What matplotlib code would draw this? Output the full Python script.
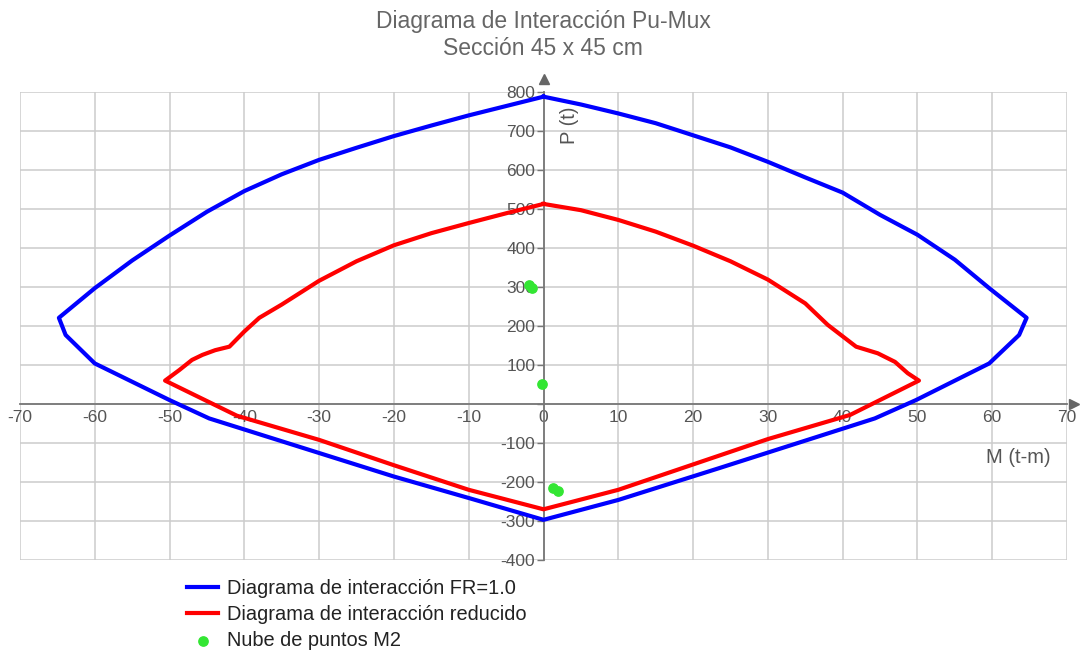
import numpy as np
import matplotlib
matplotlib.use('Agg')
import matplotlib.pyplot as plt

plt.rcParams['font.family'] = ['Liberation Sans', 'DejaVu Sans']

# ===============
# Data
# ===============
# nominal diagram, FR=1.0  (M in t-m, P in t)
m_nominal = [0, -5, -10, -15, -20, -25, -30, -35, -40, -45, -50, -55, -60, -64.8, -63.9, -60, -50, -44.7,
             -20, -10, 0, 10, 23.4, 44.3, 49.8, 59.6, 63.6, 64.6, 59.6, 55, 50, 45, 40, 35, 30, 25, 20, 15, 10, 5, 0]
p_nominal = [788, 764, 740, 714, 687, 657, 626, 589, 546, 493, 432, 368, 297, 221, 177, 104, 10, -37,
             -186, -241, -297, -246, -165, -37, 10, 104, 177, 221, 297, 370, 434, 485, 542, 581, 621, 658, 689, 720, 745, 768, 788]

# reduced diagram
m_reduced = [0, -5, -10, -15, -20, -25, -30, -35, -38, -40, -42, -43.9, -45.6, -47, -48.7, -50.6, -41, -30, -20, -10, 0,
             10, 20, 30, 41, 50.2, 48.7, 47, 44.7, 41.8, 38, 35, 30, 25, 20, 15, 10, 5, 0]
p_reduced = [513, 489, 464, 438, 407, 366, 316, 255, 221, 186, 147, 138, 126, 113, 87, 60, -30, -92, -157, -220, -270,
             -220, -155, -90, -28, 60, 79, 108, 130, 147, 203, 258, 319, 366, 406, 442, 472, 497, 513]

# cloud of points M2
m_points = [-2.0, -1.6, -0.2, 1.3, 1.9]
p_points = [305, 298, 51, -215, -223]

x_ticks = np.arange(-70, 71, 10)
y_ticks = np.arange(-400, 801, 100)

# ===============
# Figure
# ===============
fig = plt.figure(figsize=(10.82, 6.54), dpi=100)
ax = fig.add_axes([20 / 1082, (654 - 560) / 654, 1047 / 1082, 468 / 654])

ax.plot(m_nominal, p_nominal, color='#0000ff', lw=3, solid_joinstyle='round',
        label='Diagrama de interacción FR=1.0', zorder=3)
ax.plot(m_reduced, p_reduced, color='#ff0000', lw=3, solid_joinstyle='round',
        label='Diagrama de interacción reducido', zorder=3)
ax.scatter(m_points, p_points, s=45, color='#33e633', label='Nube de puntos M2', zorder=4)

ax.set_xlim(-70, 70)
ax.set_ylim(-400, 800)
ax.set_xticks(x_ticks)
ax.set_yticks(y_ticks)
ax.grid(True, color='#cccccc', lw=1.1, zorder=0)
ax.set_axisbelow(True)

# axes crossing at the origin
for s in ['top', 'right']:
    ax.spines[s].set_visible(False)
for s in ['left', 'bottom']:
    ax.spines[s].set_position(('data', 0))
    ax.spines[s].set_color('#777777')
    ax.spines[s].set_linewidth(1.3)
ax.plot(1.007, 0, '>', color='#666666', ms=7, transform=ax.get_yaxis_transform(), clip_on=False)
ax.plot(0, 1.027, '^', color='#666666', ms=7, transform=ax.get_xaxis_transform(), clip_on=False)

ax.set_xticklabels([str(v) for v in x_ticks])
ax.set_yticklabels(['' if v == 0 else str(v) for v in y_ticks])
ax.tick_params(axis='x', length=0, pad=4, labelsize=12.5, labelcolor='#555555')
ax.tick_params(axis='y', length=5, width=1, color='#777777', pad=1, labelsize=12.5, labelcolor='#555555')

ax.text(67.8, -136, 'M (t-m)', ha='right', va='center', fontsize=14.5, color='#555555')
ax.text(3.5, 715, 'P (t)', ha='center', va='center', rotation=90, fontsize=14.5, color='#555555')

fig.text(0.502, 0.985, 'Diagrama de Interacción Pu-Mux\nSección 45 x 45 cm', ha='center', va='top',
         fontsize=16.5, color='#666666', linespacing=1.22)

leg = ax.legend(loc='upper left', bbox_to_anchor=(179 / 1082, 1 - 571 / 654), bbox_transform=fig.transFigure,
                frameon=False, fontsize=14.4, handlelength=1.55, handletextpad=0.45, labelspacing=0.36,
                borderaxespad=0)
for t in leg.get_texts():
    t.set_color('#222222')

fig.savefig('out.png', dpi=100)
